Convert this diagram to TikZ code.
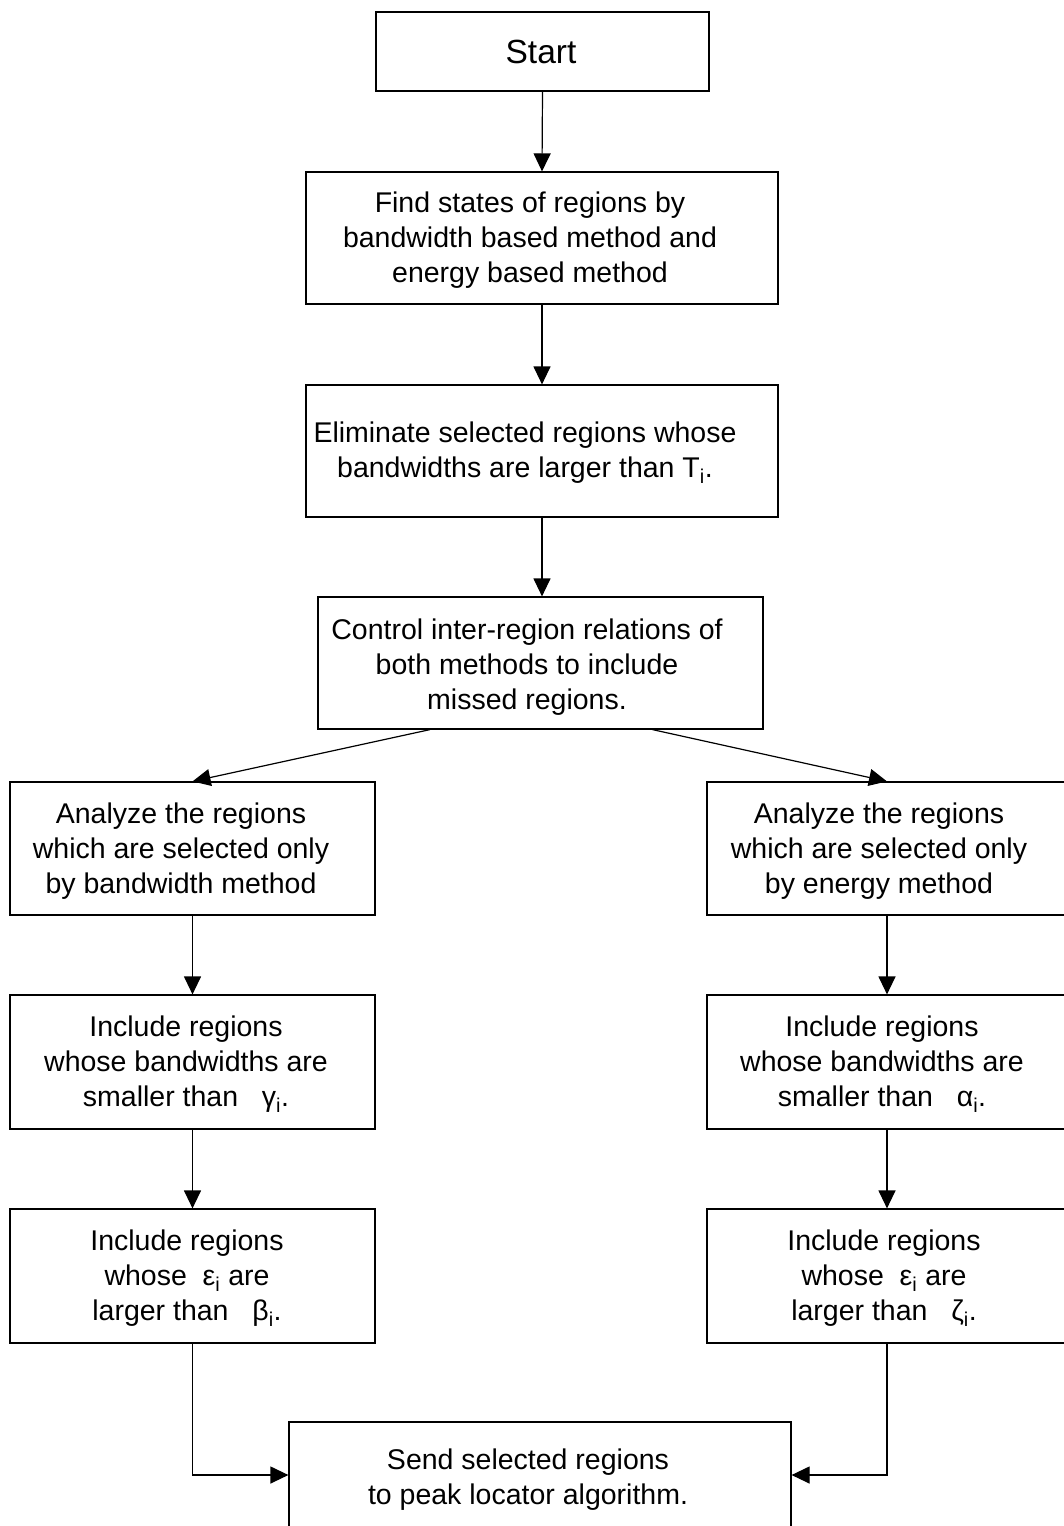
\documentclass[tikz,border=0pt]{standalone}
\usepackage{fontspec}
\setmainfont{Liberation Sans}
\usetikzlibrary{arrows.meta}
\begin{document}
\begin{tikzpicture}[x=1pt,y=-1pt,
  box/.style={draw, line width=1.2pt, inner sep=0pt},
  txt/.style={align=center, inner sep=0pt, font=\fontsize{28.5}{35}\selectfont},
  arr/.style={line width=1.2pt, -{Triangle[length=18pt,width=17pt]}}]
\clip (0,0) rectangle (1064,1526);
\fill[white] (0,0) rectangle (1064,1526);

% boxes of the flow
\node[box, minimum width=333pt, minimum height=79pt]  (start) at (542.5,51.5) {};
\node[box, minimum width=472pt, minimum height=132pt] (find)  at (542,238) {};
\node[box, minimum width=472pt, minimum height=132pt] (elim)  at (542,451) {};
\node[box, minimum width=445pt, minimum height=132pt] (ctrl)  at (540.5,663) {};
\node[box, minimum width=365pt, minimum height=133pt] (anaB)  at (192.5,848.5) {};
\node[box, minimum width=360pt, minimum height=133pt] (anaE)  at (887,848.5) {};
\node[box, minimum width=365pt, minimum height=134pt] (incG)  at (192.5,1062) {};
\node[box, minimum width=360pt, minimum height=134pt] (incA)  at (887,1062) {};
\node[box, minimum width=365pt, minimum height=134pt] (incB)  at (192.5,1276) {};
\node[box, minimum width=360pt, minimum height=134pt] (incZ)  at (887,1276) {};
\node[box, minimum width=502pt, minimum height=106pt] (send)  at (540,1475) {};

% texts
\node[txt, font=\fontsize{33.5}{40}\selectfont] (tstart) at (541,52) {Start};
\node[txt] (tfind) at (530,240) {Find states of regions by\\bandwidth based method and\\energy based method};
\node[txt] (telim) at (525,453) {Eliminate selected regions whose\\bandwidths are larger than T\textsubscript{i}.};
\node[txt] (tctrl) at (527,667) {Control inter-region relations of\\both methods to include\\missed regions.};
\node[txt] (tanaB) at (181,851) {Analyze the regions\\which are selected only\\by bandwidth method};
\node[txt] (tanaE) at (879,851) {Analyze the regions\\which are selected only\\by energy method};
\node[txt] (tincG) at (186,1064) {Include regions\\whose bandwidths are\\smaller than~~~γ\textsubscript{i}.};
\node[txt] (tincA) at (882,1064) {Include regions\\whose bandwidths are\\smaller than~~~α\textsubscript{i}.};
\node[txt] (tincB) at (187,1278) {Include regions\\whose~ ε\textsubscript{i} are\\larger than~~ β\textsubscript{i}.};
\node[txt] (tincZ) at (884,1278) {Include regions\\whose~ ε\textsubscript{i} are\\larger than~~ ζ\textsubscript{i}.};
\node[txt] (tsend) at (528,1480) {Send selected regions\\to peak locator algorithm.};

% connectors
\draw[arr] (start.south) -- (find.north);
\draw[arr] (find.south) -- (elim.north);
\draw[arr] (elim.south) -- (ctrl.north -| elim.south);
\draw[arr] ([xshift=-110.5pt]ctrl.south) -- (anaB.north);
\draw[arr] ([xshift=112pt]ctrl.south) -- (anaE.north);
\draw[arr] (anaB.south) -- (incG.north);
\draw[arr] (incG.south) -- (incB.north);
\draw[arr] (anaE.south) -- (incA.north);
\draw[arr] (incA.south) -- (incZ.north);
\draw[arr] (incB.south) |- (send.west);
\draw[arr] (incZ.south) |- (send.east);
\end{tikzpicture}
\end{document}
